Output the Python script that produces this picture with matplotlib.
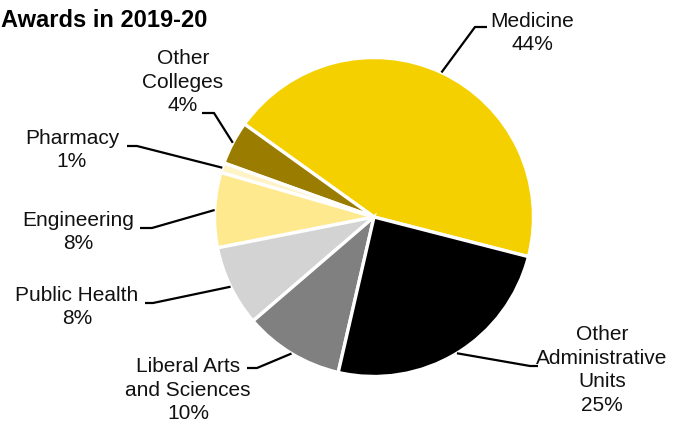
import numpy as np
import matplotlib
matplotlib.use("Agg")
import matplotlib.pyplot as plt

plt.rcParams['font.family'] = ['Liberation Sans', 'DejaVu Sans']

# ---- data ----
categories = ["Medicine", "Other\nColleges", "Pharmacy", "Engineering",
              "Public Health", "Liberal Arts\nand Sciences",
              "Other\nAdministrative\nUnits"]
values = [44.1, 4.4, 1.0, 7.6, 8.2, 10.1, 24.6]
colors = ["#F5D000", "#9A7D00", "#FFF4C8", "#FEE98E", "#D3D3D3", "#808080", "#000000"]
title = "Awards in 2019-20"

W, H = 673, 428
fig = plt.figure(figsize=(W / 100, H / 100), dpi=100)
ax = fig.add_axes([0, 0, 1, 1])

def Y(y):
    return H - y

cx, cy, R = 374, 217, 159.5
wedges, _ = ax.pie(values, colors=colors, startangle=-14.4, counterclock=True,
                   center=(cx, Y(cy)), radius=R, frame=True,
                   wedgeprops=dict(edgecolor='white', linewidth=2.4))
ax.set_xlim(0, W)
ax.set_ylim(0, H)
ax.set_aspect('equal')
ax.axis('off')

# label layout: (elbow point, line end point, text center)
layout = [
    ((475, 27), (487, 27), (532, 33)),
    ((214, 113), (202, 113), (183, 82)),
    ((137, 146), (127, 146), (72, 150)),
    ((152, 228), (140, 228), (78, 232)),
    ((153, 303), (145, 303), (77, 307)),
    ((257, 368), (247, 368), (188, 390)),
    ((530, 366), (538, 366), (602, 370)),
]

for w, cat, v, (elb, end, tc) in zip(wedges, categories, values, layout):
    mid = np.deg2rad((w.theta1 + w.theta2) / 2)
    sx = cx + R * np.cos(mid)
    sy = Y(cy) + R * np.sin(mid)
    ax.plot([sx, elb[0], end[0]], [sy, Y(elb[1]), Y(end[1])],
            color='black', lw=1.6, solid_capstyle='butt')
    ax.text(tc[0], Y(tc[1]), f"{cat}\n{int(v + 0.5)}%", ha='center', va='center',
            fontsize=15, color='#111111', linespacing=1.32)

ax.text(1, Y(20), title, ha='left', va='center', fontsize=17,
        fontweight='bold', color='black')

fig.savefig("out.png", dpi=100)
